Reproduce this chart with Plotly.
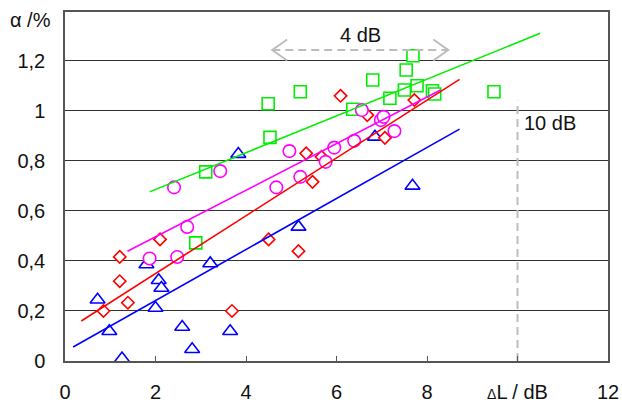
import plotly.graph_objects as go

# ---- data ----
blue_x = [0.72, 0.98, 1.26, 1.80, 2.07, 2.13, 2.00, 2.59, 2.81, 3.21, 3.65, 3.83, 5.16, 6.85, 7.68]
blue_y = [0.245, 0.119, 0.01, 0.386, 0.323, 0.292, 0.212, 0.136, 0.047, 0.39, 0.119, 0.827, 0.536, 0.896, 0.70]

red_x = [0.85, 1.21, 1.21, 1.39, 2.10, 3.69, 4.50, 5.16, 5.33, 5.47, 5.67, 6.09, 6.68, 7.07, 7.72]
red_y = [0.20, 0.416, 0.319, 0.233, 0.486, 0.20, 0.486, 0.439, 0.83, 0.716, 0.816, 1.06, 0.983, 0.892, 1.043]

magenta_x = [1.87, 2.48, 2.70, 2.41, 3.43, 4.67, 4.96, 5.20, 5.76, 5.95, 6.39, 6.56, 6.98, 7.04, 7.28]
magenta_y = [0.41, 0.416, 0.536, 0.694, 0.759, 0.694, 0.839, 0.736, 0.796, 0.853, 0.88, 1.003, 0.963, 0.976, 0.919]

green_x = [2.89, 3.11, 4.49, 4.53, 5.20, 6.36, 6.80, 7.18, 7.50, 7.54, 7.69, 7.78, 8.12, 8.17, 9.48]
green_y = [0.472, 0.756, 1.028, 0.894, 1.076, 1.006, 1.123, 1.05, 1.083, 1.163, 1.22, 1.10, 1.08, 1.067, 1.076]

# fitted trend lines (end points)
blue_fit_x = [0.18, 8.72]
blue_fit_y = [0.056, 0.927]
red_fit_x = [0.36, 8.72]
red_fit_y = [0.16, 1.126]
magenta_fit_x = [1.38, 8.30]
magenta_fit_y = [0.439, 1.083]
green_fit_x = [1.87, 10.50]
green_fit_y = [0.676, 1.31]

x_tickvals = [0, 2, 4, 6, 8, 10, 12]
x_ticktext = ["0", "2", "4", "6", "8", "<span style='font-size:14px'>Δ</span>L / dB", "12"]
y_tickvals = [0, 0.2, 0.4, 0.6, 0.8, 1.0, 1.2]
y_ticktext = ["0", "0,2", "0,4", "0,6", "0,8", "1", "1,2"]

range_arrow_x = [4.58, 8.47]
range_arrow_y = 1.243
range_label = "4 dB"
limit_x = 10.0
limit_top = 1.04
limit_label = "10 dB"

FONT = "Liberation Sans, Arial, sans-serif"
GRAY = "#bdbdbd"
TXT = "#111"
FS = 20

fig = go.Figure()

series = [
    (green_x, green_y, "#00ee00", "square", 12),
    (blue_x, blue_y, "#0000ff", "triangle-up", 13),
    (red_x, red_y, "#ff0000", "diamond", 9.5),
    (magenta_x, magenta_y, "#ff00ff", "circle", 12.5),
]
for xs, ys, col, sym, sz in series:
    fig.add_trace(go.Scatter(
        x=xs, y=ys, mode="markers", cliponaxis=False,
        marker=dict(symbol=sym, size=sz, color="white", line=dict(color=col, width=1.6)),
        showlegend=False, hoverinfo="skip"))

for fx, fy, col in [(blue_fit_x, blue_fit_y, "#0000ff"), (red_fit_x, red_fit_y, "#ff0000"),
                    (magenta_fit_x, magenta_fit_y, "#ff00ff"), (green_fit_x, green_fit_y, "#00ee00")]:
    fig.add_trace(go.Scatter(x=fx, y=fy, mode="lines", line=dict(color=col, width=1.6),
                             showlegend=False, hoverinfo="skip", cliponaxis=False))

# vertical 10 dB limit line
fig.add_trace(go.Scatter(x=[limit_x, limit_x], y=[0, limit_top], mode="lines",
                         line=dict(color=GRAY, width=2, dash="8px,5px"),
                         showlegend=False, hoverinfo="skip"))

# 4 dB double arrow (dashed shaft + open chevron heads)
fig.add_trace(go.Scatter(x=range_arrow_x, y=[range_arrow_y] * 2, mode="lines",
                         line=dict(color=GRAY, width=2, dash="8px,5px"),
                         showlegend=False, hoverinfo="skip", cliponaxis=False))
hx = 0.33
hy = 0.042
x0, x1 = range_arrow_x
for tip, sgn in [(x0, 1), (x1, -1)]:
    fig.add_trace(go.Scatter(x=[tip + sgn * hx, tip, tip + sgn * hx],
                             y=[range_arrow_y + hy, range_arrow_y, range_arrow_y - hy],
                             mode="lines", line=dict(color=GRAY, width=2),
                             showlegend=False, hoverinfo="skip", cliponaxis=False))

fig.add_annotation(x=(x0 + x1) / 2, y=range_arrow_y + 0.06, text=range_label, showarrow=False,
                   font=dict(size=FS, color=TXT, family=FONT), xanchor="center", yanchor="middle")
fig.add_annotation(x=limit_x + 0.1, y=0.95, text=limit_label, showarrow=False,
                   font=dict(size=FS, color=TXT, family=FONT), xanchor="left", yanchor="middle")
fig.add_annotation(xref="paper", yref="paper", x=-0.105, y=0.977, text="α /%", showarrow=False,
                   font=dict(size=FS, color=TXT, family=FONT), xanchor="left", yanchor="middle")

fig.update_layout(
    width=622, height=405,
    margin=dict(l=65, r=14, t=12, b=44, autoexpand=False),
    paper_bgcolor="white", plot_bgcolor="white",
    font=dict(family=FONT, size=FS, color=TXT),
    xaxis=dict(range=[0, 12], tickvals=x_tickvals, ticktext=x_ticktext, automargin=False,
               showgrid=False, zeroline=False, showline=True, linecolor="#555", linewidth=1.5,
               mirror=True, ticks="inside", ticklen=5, tickcolor="#555",
               ticklabelstandoff=12, fixedrange=True),
    yaxis=dict(range=[0, 1.395], tickvals=y_tickvals, ticktext=y_ticktext, automargin=False,
               showgrid=True, gridcolor="#333", gridwidth=1, zeroline=False,
               showline=True, linecolor="#555", linewidth=1.5, mirror=True,
               ticks="", ticklabelstandoff=14, fixedrange=True),
)

# remove the page's default body margin so the 622x405 figure fills the window exactly
post = ("document.body.style.margin='0';"
        "document.body.style.overflow='hidden';"
        "document.documentElement.style.overflow='hidden';")
fig.write_html("out.html", config={"displayModeBar": False}, post_script=post)
